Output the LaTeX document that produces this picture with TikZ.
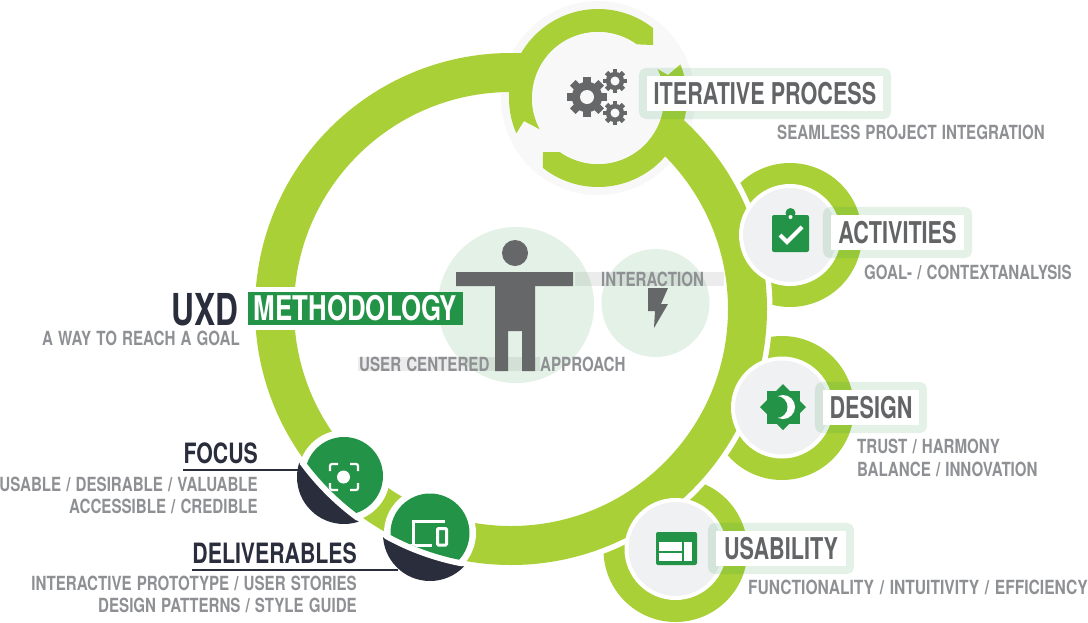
\documentclass[tikz,border=0pt]{standalone}
\usepackage{fontspec}
\usepackage{xcolor}
\usetikzlibrary{fit}
\newfontfamily\uxdfont[FakeStretch=0.72]{TeX Gyre Heros}
\newfontfamily\sidefont[FakeStretch=0.76]{TeX Gyre Heros}
\newfontfamily\subfont[FakeStretch=0.775,WordSpace=1.22]{TeX Gyre Heros}
\newfontfamily\subwide[FakeStretch=0.80,WordSpace=1.3]{TeX Gyre Heros}
\definecolor{ringgreen}{HTML}{A9D037}
\definecolor{leaf}{HTML}{239447}
\definecolor{ink}{HTML}{2A2D3C}
\definecolor{iconhue}{HTML}{666769}
\definecolor{subhue}{HTML}{8E9093}
\definecolor{titlehue}{HTML}{636466}
\definecolor{palehue}{HTML}{E3F1E6}
\definecolor{sathue}{HTML}{F0F1F2}
\definecolor{iterhue}{HTML}{F8F8F8}
\newcommand{\gearicon}[4]{%
  \fill[iconhue] (#1,#2) circle ({#3*.76});
  \foreach \t in {0,45,...,315}
    \fill[iconhue, rotate around={\t:(#1,#2)}] ({#1-#3*.2},#2) rectangle ({#1+#3*.2},{#2+#3});
  \fill[iterhue] (#1,#2) circle (#4);}

\begin{document}
\begin{tikzpicture}[
  x=1pt, y=1pt,
  sat/.style={circle, fill=sathue, draw=white, line width=4pt, minimum size=98pt, inner sep=0pt},
  satring/.style={circle, fill=ringgreen, minimum size=144pt, inner sep=0pt},
  head/.style={fill=white, inner sep=0pt, minimum height=35pt, text height=21pt, text depth=0pt,
               text=titlehue, font=\uxdfont\bfseries\fontsize{30}{30}\selectfont},
  frame/.style={draw=leaf, draw opacity=.13, line width=8pt, rounded corners=4pt, inner sep=4pt},
  sub/.style={inner sep=0pt, text=subhue, text height=14pt, text depth=0pt, font=\subfont\bfseries\fontsize{19.5}{20}\selectfont},
  side/.style={inner sep=0pt, text=ink, text depth=0pt, font=\sidefont\bfseries\fontsize{28}{28}\selectfont},
  band/.style={fill=iconhue, fill opacity=.12}
]
\useasboundingbox (0,0) rectangle (1088,-622);
\coordinate (hub) at (511,-309);
\coordinate (itc) at (598,-98);

% ---- Satellite rings and dark caps --------------------------------------
\node[satring] (ringact) at (790,-235) {};
\node[satring] (ringdes) at (782,-408) {};
\node[satring] (ringusa) at (675.5,-550) {};
\fill[ink] (344,-477) circle (47);
\fill[ink] (430,-534) circle (47);
\fill[white] (hub) circle (261.5);

% ---- Iterative backdrop -------------------------------------------------
\fill[iterhue] (itc) circle (97);

% ---- Centre figure ------------------------------------------------------
\fill[palehue] (516,-305) circle (78);
\fill[palehue] (655.5,-303) circle (54);
\fill[band] (575,-272) rectangle (724,-286);
\fill[band] (358,-357) rectangle (540,-371);
\fill[iconhue] (515,-253) circle (13);
\fill[iconhue] (456,-272) -- (573,-272) -- (573,-286) -- (535,-286) -- (535,-371) -- (522,-371)
  -- (522,-331) -- (508,-331) -- (508,-371) -- (495,-371) -- (495,-286) -- (456,-286) -- cycle;
\fill[iconhue] (648,-288) -- (668,-288) -- (661,-304) -- (668,-304) -- (654,-328) -- (655,-311) -- (648,-311) -- cycle;
\node[sub, anchor=base west] (interaction) at (601,-286) {INTERACTION};
\node[sub, anchor=base west] (usercentered) at (359,-371) {USER CENTERED};
\node[sub, anchor=base west] (approach) at (540,-371) {APPROACH};

% ---- Main ring ----------------------------------------------------------
\draw[ringgreen, line width=39pt] (hub) circle (236.5);

% ---- Iterative arcs -----------------------------------------------------
\fill[ringgreen] ([shift={(51.8:89)}]itc) arc[start angle=51.8, end angle=203.4, radius=89]
  -- (524,-121) -- ([shift={(208.5:66)}]itc) arc[start angle=208.5, end angle=54.4, radius=66]
  -- (653,-45) -- cycle;
\fill[ringgreen] ([shift={(231.8:89)}]itc) arc[start angle=231.8, end angle=382.2, radius=89]
  -- (668,-75) -- ([shift={(26.2:66)}]itc) arc[start angle=26.2, end angle=-125.1, radius=66]
  -- (543,-152) -- cycle;
\fill[iterhue] (itc) circle (66);
\gearicon{587}{-97}{20}{7}
\gearicon{615}{-81}{12}{4.5}
\gearicon{615}{-113}{12}{4.5}

% ---- Satellite discs ----------------------------------------------------
\node[sat] (act) at (790,-235) {};
\node[sat] (des) at (782,-407.5) {};
\node[sat] (usa) at (675.5,-549) {};

% clipboard
\fill[leaf] (790.5,-213) circle (5);
\fill[leaf, rounded corners=2pt] (772,-215) rectangle (809,-252);
\fill[white] (790.5,-217) circle (2);
\draw[white, line width=4pt] (780,-235) -- (787,-242) -- (802,-227);
% sun and moon
\fill[leaf] (766.5,-390.5) rectangle (799.5,-423.5);
\fill[leaf] (783,-384) -- (806,-407) -- (783,-430) -- (760,-407) -- cycle;
\fill[white] (783,-407) circle (12);
\fill[leaf] (776.5,-407) circle (11);
% layout window
\fill[leaf, rounded corners=2pt] (656,-532) rectangle (697,-565);
\fill[white] (659,-542) rectangle (682,-551);
\fill[white] (659,-553) rectangle (682,-561);
\fill[white] (684,-542) rectangle (692,-561);

% ---- Focus and deliverables discs --------------------------------------
\begin{scope}
  \clip (hub) circle (262);
  \fill[white] (344,-476) circle (46);
  \fill[white] (430,-533) circle (46);
\end{scope}
\begin{scope}
  \clip (hub) circle (256);
  \fill[leaf] (344,-476) circle (39);
  \fill[leaf] (430,-533) circle (39.5);
  \draw[white, line width=3pt] (413,-545) -- (413,-521) -- (445,-521);
  \draw[white, line width=3pt] (409,-545) -- (432,-545);
  \draw[white, line width=3pt, rounded corners=1pt] (437.5,-528.5) rectangle (446.5,-545);
\end{scope}
\fill[white] (343.5,-477) circle (6.5);
\draw[white, line width=2.2pt, rounded corners=2pt]
  (330,-471) -- (330,-464) -- (338,-464) (350,-464) -- (358,-464) -- (358,-471)
  (358,-483) -- (358,-490) -- (350,-490) (338,-490) -- (330,-490) -- (330,-483);

% ---- Heading on the left ------------------------------------------------
\fill[white] (250,-287) rectangle (302,-330);
\node[fill=leaf, inner sep=0pt, minimum width=215pt, minimum height=33pt, text height=24pt, text depth=0pt,
      text=white, font=\sidefont\bfseries\fontsize{34}{34}\selectfont] (method) at (355.5,-308.5) {METHODOLOGY};
\node[side, anchor=base east, font=\uxdfont\bfseries\fontsize{44}{44}\selectfont] (uxd) at (239,-325) {UXD};
\node[sub, anchor=base east] (goal) at (240,-345) {A WAY TO REACH A GOAL};

% ---- Labels -------------------------------------------------------------
\node[head, minimum width=236pt] (iterlbl) at (765,-93.5) {ITERATIVE PROCESS};
\node[frame, fit=(iterlbl)] (iterfrm) {};
\node[sub, anchor=base east] (itersub) at (1045,-139) {SEAMLESS PROJECT INTEGRATION};

\node[head, minimum width=133pt] (actlbl) at (897.5,-232.5) {ACTIVITIES};
\node[frame, fit=(actlbl)] (actfrm) {};
\node[sub, anchor=base west] (actsub) at (864,-279) {GOAL- / CONTEXTANALYSIS};

\node[head, minimum width=96pt] (deslbl) at (871,-407.5) {DESIGN};
\node[frame, fit=(deslbl)] (desfrm) {};
\node[sub, anchor=base west] (dessuba) at (857,-453) {TRUST / HARMONY};
\node[sub, anchor=base west] (dessubb) at (857,-476) {BALANCE / INNOVATION};

\node[head, minimum width=130pt] (usalbl) at (781,-548.5) {USABILITY};
\node[frame, fit=(usalbl)] (usafrm) {};
\node[sub, anchor=base east, font=\subwide\bfseries\fontsize{19.5}{20}\selectfont] (usasub) at (1088,-594) {FUNCTIONALITY / INTUITIVITY / EFFICIENCY};

% ---- Focus and deliverables text ---------------------------------------
\node[side, anchor=base east] (focus) at (258,-463) {FOCUS};
\coordinate (focusend) at (298,-470);
\draw[ink, line width=1.2pt] (focus.south west |- focusend) -- (focusend);
\node[sub, anchor=base east] (focusa) at (258,-491) {USABLE / DESIRABLE / VALUABLE};
\node[sub, anchor=base east] (focusb) at (258,-513) {ACCESSIBLE / CREDIBLE};

\node[side, anchor=base east] (deliv) at (357,-563) {DELIVERABLES};
\coordinate (delivend) at (398,-570);
\draw[ink, line width=1.2pt] (deliv.south west |- delivend) -- (delivend);
\node[sub, anchor=base east] (deliva) at (357,-590) {INTERACTIVE PROTOTYPE / USER STORIES};
\node[sub, anchor=base east] (delivb) at (357,-612) {DESIGN PATTERNS / STYLE GUIDE};
\end{tikzpicture}
\end{document}
